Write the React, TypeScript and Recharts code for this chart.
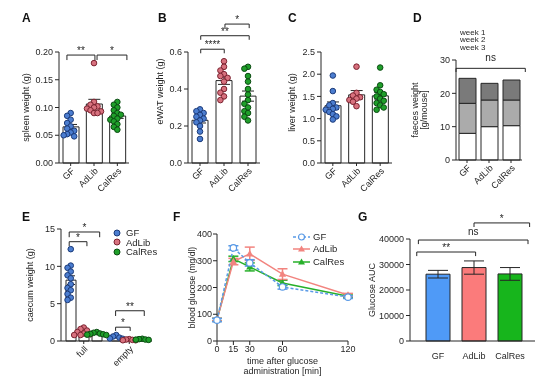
import React from 'react';
import {
  Bar,
  BarChart,
  Cell,
  ComposedChart,
  ErrorBar,
  Label,
  Line,
  LineChart,
  ReferenceLine,
  Scatter,
  XAxis,
  YAxis,
} from 'recharts';

const groups = ['GF', 'AdLib', 'CalRes'];

// A - spleen weight (g), one value per mouse
const spleenGF = [0.09, 0.085, 0.078, 0.072, 0.066, 0.062, 0.058, 0.055, 0.052, 0.05, 0.048];
const spleenAdLib = [0.18, 0.11, 0.105, 0.102, 0.1, 0.098, 0.095, 0.093, 0.09, 0.09];
const spleenCalRes = [0.11, 0.105, 0.1, 0.095, 0.09, 0.087, 0.085, 0.08, 0.078, 0.075, 0.07, 0.065, 0.06];

// B - eWAT weight (g)
const ewatGF = [0.29, 0.28, 0.27, 0.26, 0.25, 0.24, 0.23, 0.22, 0.2, 0.17, 0.13];
const ewatAdLib = [0.55, 0.52, 0.5, 0.48, 0.47, 0.46, 0.44, 0.4, 0.38, 0.36, 0.34];
const ewatCalRes = [0.52, 0.51, 0.47, 0.44, 0.4, 0.37, 0.34, 0.32, 0.3, 0.28, 0.27, 0.25, 0.23];

// C - liver weight (g)
const liverGF = [1.97, 1.62, 1.35, 1.3, 1.25, 1.22, 1.2, 1.15, 1.1, 1.05, 0.98];
const liverAdLib = [2.17, 1.58, 1.52, 1.48, 1.45, 1.42, 1.38, 1.28];
const liverCalRes = [2.15, 1.75, 1.65, 1.6, 1.55, 1.5, 1.45, 1.4, 1.35, 1.3, 1.25, 1.2];

// D - faeces weight per week (g/mouse)
const weekLabels = ['week 1', 'week 2', 'week 3'];
const faecesWeek1 = [8, 10, 10.3];
const faecesWeek2 = [9, 8, 7.7];
const faecesWeek3 = [7.5, 5, 6];

// E - caecum weight (g), full / empty
const caecumSections = ['full', 'empty'];
const caecumGF = [
  [12.3, 10.1, 9.8, 9.3, 8.8, 8.4, 7.6, 7.1, 6.8, 6.3, 5.8, 5.5],
  [0.8, 0.6, 0.45, 0.35, 0.3],
];
const caecumAdLib = [
  [1.8, 1.6, 1.4, 1.2, 1.0, 0.9, 0.8, 0.8],
  [0.25, 0.2, 0.15, 0.1, 0.1],
];
const caecumCalRes = [
  [1.2, 1.1, 1.0, 0.95, 0.9, 0.85, 0.8],
  [0.3, 0.25, 0.2, 0.18, 0.15],
];

// F - blood glucose (mg/dl)
const glucoseTimes = [0, 15, 30, 60, 120];
const glucoseGF = [78, 348, 292, 202, 164];
const glucoseGFSem = [6, 8, 12, 8, 5];
const glucoseAdLib = [80, 297, 326, 250, 172];
const glucoseAdLibSem = [5, 12, 25, 20, 6];
const glucoseCalRes = [80, 307, 277, 217, 167];
const glucoseCalResSem = [5, 10, 15, 10, 5];

// G - glucose AUC
const aucMean = [26200, 28800, 26300];
const aucSem = [1500, 2600, 2500];

const ink = '#262626';
const font = '"Liberation Sans", Arial, sans-serif';
const tickStyle = { fontSize: 9, fill: ink };

const dotFill: Record<string, string> = { GF: '#4b7dd0', AdLib: '#d8717e', CalRes: '#1f9f2a' };
const dotEdge: Record<string, string> = { GF: '#1b3a78', AdLib: '#7a2330', CalRes: '#0b4a12' };
const barFill: Record<string, string> = { GF: '#4f9af7', AdLib: '#fb7b7b', CalRes: '#17b51c' };
const lineColor: Record<string, string> = { GF: '#5a9ae6', AdLib: '#f2847f', CalRes: '#27b02a' };

const mean = (v: number[]) => v.reduce((a, b) => a + b, 0) / v.length;
const sem = (v: number[]) => {
  const m = mean(v);
  return Math.sqrt(v.reduce((a, b) => a + (b - m) ** 2, 0) / (v.length - 1)) / Math.sqrt(v.length);
};

// simple beeswarm: spread dots sideways when they would overlap
function swarm(values: number[], center: number, step: number, minDy: number) {
  const placed: { x: number; y: number }[] = [];
  values.forEach((v) => {
    for (let k = 0; k < 7; k++) {
      const off = k === 0 ? 0 : (k % 2 ? -1 : 1) * Math.ceil(k / 2) * step;
      const hit = placed.some((p) => Math.abs(p.x - (center + off)) < step * 0.9 && Math.abs(p.y - v) < minDy);
      if (!hit) {
        placed.push({ x: center + off, y: v });
        return;
      }
    }
    placed.push({ x: center, y: v });
  });
  return placed;
}

type Spec = { plotLeft: number; plotRight: number; plotTop: number; plotBottom: number; titleX: number; below: number };
const head = 56;

function frame(s: Spec) {
  const axisW = 2 * (s.plotLeft - s.titleX);
  return {
    style: {
      position: 'absolute' as const,
      left: s.plotLeft - axisW,
      top: s.plotTop - head,
      willChange: 'transform',
    },
    width: axisW + s.plotRight - s.plotLeft + 12,
    height: head + s.plotBottom - s.plotTop + s.below,
    margin: { top: head, right: 12, bottom: 0, left: 0 },
    axisW,
  };
}

// significance text centred above the bracket
const starLabel = (text: string, gap: number) => (props: any) => {
  const vb = props.viewBox || {};
  return (
    <text x={vb.x + (vb.width || 0) / 2} y={vb.y - gap - 1} textAnchor="middle" fontSize={10} fill={ink}>
      {text}
    </text>
  );
};

function bracket(id: string, x1: number, x2: number, y: number, drop: number, text: string, gap = 0) {
  return [
    <ReferenceLine
      key={id + 'h'}
      xAxisId="num"
      segment={[{ x: x1, y }, { x: x2, y }]}
      stroke={ink}
      ifOverflow="visible"
      label={starLabel(text, gap)}
    />,
    <ReferenceLine key={id + 'l'} xAxisId="num" segment={[{ x: x1, y }, { x: x1, y: y - drop }]} stroke={ink} ifOverflow="visible" />,
    <ReferenceLine key={id + 'r'} xAxisId="num" segment={[{ x: x2, y }, { x: x2, y: y - drop }]} stroke={ink} ifOverflow="visible" />,
  ];
}

const dotShape = (g: string, r = 2.8) => (p: any) => (
  <circle cx={p.cx} cy={p.cy} r={r} fill={dotFill[g]} stroke={dotEdge[g]} strokeWidth={1} />
);

function DotBarPanel({
  values,
  max,
  ticks,
  digits,
  title,
  titleDy = 0,
  spec,
  children,
}: {
  values: number[][];
  max: number;
  ticks: number[];
  digits: number;
  title: string;
  titleDy?: number;
  spec: Spec;
  children?: React.ReactNode;
}) {
  const f = frame(spec);
  const rows = groups.map((g, i) => ({ name: g, mean: mean(values[i]), err: sem(values[i]) }));
  return (
    <div style={f.style}>
      <ComposedChart width={f.width} height={f.height} data={rows} margin={f.margin}>
        <XAxis
          dataKey="name"
          height={spec.below}
          interval={0}
          angle={-45}
          textAnchor="end"
          tick={tickStyle}
          tickSize={3}
          tickMargin={1}
          stroke={ink}
        />
        <XAxis xAxisId="num" type="number" dataKey="x" domain={[-0.5, groups.length - 0.5]} hide />
        <YAxis
          width={f.axisW}
          domain={[0, max]}
          ticks={ticks}
          tick={tickStyle}
          tickSize={4}
          tickMargin={2}
          stroke={ink}
          tickFormatter={(v: number) => v.toFixed(digits)}
        >
          <Label value={title} angle={-90} position="center" dy={titleDy} fontSize={9} fill={ink} />
        </YAxis>
        <Bar dataKey="mean" barSize={16} fill="#ffffff" stroke={ink} strokeWidth={1} isAnimationActive={false}>
          <ErrorBar dataKey="err" width={6} stroke={ink} strokeWidth={1} direction="y" />
        </Bar>
        {groups.map((g, i) => (
          <Scatter
            key={g}
            xAxisId="num"
            dataKey="y"
            data={swarm(values[i], i, 0.15, max * 0.045)}
            shape={dotShape(g)}
            isAnimationActive={false}
          />
        ))}
        {children}
      </ComposedChart>
    </div>
  );
}

function FaecesPanel() {
  const spec: Spec = { plotLeft: 456, plotRight: 522, plotTop: 60, plotBottom: 160, titleX: 419, below: 40 };
  const f = frame(spec);
  const rows = groups.map((g, i) => ({ name: g, w1: faecesWeek1[i], w2: faecesWeek2[i], w3: faecesWeek3[i] }));
  const shades = ['#ffffff', '#ababab', '#7a7a7a'];
  return (
    <div style={f.style}>
      <BarChart width={f.width} height={f.height} data={rows} margin={f.margin}>
        <XAxis
          dataKey="name"
          height={spec.below}
          interval={0}
          angle={-45}
          textAnchor="end"
          tick={tickStyle}
          tickSize={3}
          tickMargin={1}
          stroke={ink}
        />
        <XAxis xAxisId="num" type="number" domain={[-0.5, 2.5]} hide />
        <YAxis width={f.axisW} domain={[0, 30]} ticks={[0, 10, 20, 30]} tick={tickStyle} tickSize={4} tickMargin={2} stroke={ink}>
          <Label value="faeces weight" angle={-90} position="center" dx={-4} fontSize={9} fill={ink} />
          <Label value="[g/mouse]" angle={-90} position="center" dx={5} fontSize={9} fill={ink} />
        </YAxis>
        {['w1', 'w2', 'w3'].map((k, i) => (
          <Bar key={k} dataKey={k} stackId="s" barSize={17} fill={shades[i]} stroke={ink} strokeWidth={1} isAnimationActive={false} />
        ))}
        {bracket('ns', 0, 2.1, 27.5, 1.1, 'ns', 6)}
      </BarChart>
    </div>
  );
}

function CaecumPanel() {
  const spec: Spec = { plotLeft: 61, plotRight: 152, plotTop: 229, plotBottom: 341, titleX: 30, below: 40 };
  const f = frame(spec);
  const sets = [caecumGF, caecumAdLib, caecumCalRes];
  const rows = caecumSections.map((s, k) => {
    const row: Record<string, number | string> = { name: s };
    groups.forEach((g, j) => {
      row[g] = mean(sets[j][k]);
      row[g + 'Err'] = sem(sets[j][k]);
    });
    return row;
  });
  const barSize = 10;
  const barGap = 3;
  const band = (spec.plotRight - spec.plotLeft) / caecumSections.length;
  const shift = (barSize + barGap) / band;
  return (
    <div style={f.style}>
      <ComposedChart width={f.width} height={f.height} data={rows} margin={f.margin} barGap={barGap}>
        <XAxis
          dataKey="name"
          height={spec.below}
          interval={0}
          angle={-45}
          textAnchor="end"
          tick={tickStyle}
          tickSize={3}
          tickMargin={1}
          stroke={ink}
        />
        <XAxis xAxisId="num" type="number" dataKey="x" domain={[0, caecumSections.length]} hide />
        <YAxis width={f.axisW} domain={[0, 15]} ticks={[0, 5, 10, 15]} tick={tickStyle} tickSize={4} tickMargin={2} stroke={ink}>
          <Label value="caecum weight (g)" angle={-90} position="center" fontSize={9} fill={ink} />
        </YAxis>
        {groups.map((g) => (
          <Bar key={g} dataKey={g} barSize={barSize} fill="#ffffff" stroke={ink} strokeWidth={1} isAnimationActive={false}>
            <ErrorBar dataKey={g + 'Err'} width={4} stroke={ink} strokeWidth={1} direction="y" />
          </Bar>
        ))}
        {groups.map((g, j) => (
          <Scatter
            key={g + 'dots'}
            xAxisId="num"
            dataKey="y"
            data={caecumSections.flatMap((_, k) => swarm(sets[j][k], k + 0.5 + (j - 1) * shift, 0.07, 0.75))}
            shape={dotShape(g)}
            isAnimationActive={false}
          />
        ))}
        {bracket('e1', 0.18, 0.57, 13.3, 0.6, '*')}
        {bracket('e2', 0.18, 0.85, 14.6, 0.7, '*')}
        {bracket('e3', 1.2, 1.52, 1.85, 0.5, '*')}
        {bracket('e4', 1.2, 1.83, 4.05, 0.7, '**')}
      </ComposedChart>
    </div>
  );
}

const triangle = (color: string) => (p: any) => (
  <polygon
    key={`t${p.index}`}
    points={`${p.cx},${p.cy - 3.8} ${p.cx + 3.6},${p.cy + 2.6} ${p.cx - 3.6},${p.cy + 2.6}`}
    fill={color}
  />
);
const openCircle = (p: any) => (
  <circle key={`c${p.index}`} cx={p.cx} cy={p.cy} r={3.2} fill="#ffffff" stroke={lineColor.GF} strokeWidth={1.2} />
);

function GlucosePanel() {
  const spec: Spec = { plotLeft: 217, plotRight: 348, plotTop: 234, plotBottom: 341, titleX: 192, below: 40 };
  const f = frame(spec);
  const rows = glucoseTimes.map((t, i) => ({
    t,
    GF: glucoseGF[i],
    GFErr: glucoseGFSem[i],
    AdLib: glucoseAdLib[i],
    AdLibErr: glucoseAdLibSem[i],
    CalRes: glucoseCalRes[i],
    CalResErr: glucoseCalResSem[i],
  }));
  return (
    <div style={f.style}>
      <LineChart width={f.width} height={f.height} data={rows} margin={f.margin}>
        <XAxis
          dataKey="t"
          type="number"
          domain={[0, 120]}
          ticks={glucoseTimes}
          height={spec.below}
          tick={tickStyle}
          tickSize={4}
          tickMargin={1}
          stroke={ink}
        >
          <Label value="time after glucose" position="insideTop" offset={17} fontSize={9} fill={ink} />
          <Label value="administration [min]" position="insideTop" offset={27} fontSize={9} fill={ink} />
        </XAxis>
        <YAxis width={f.axisW} domain={[0, 400]} ticks={[0, 100, 200, 300, 400]} tick={tickStyle} tickSize={4} tickMargin={1} stroke={ink}>
          <Label value="blood glucose (mg/dl)" angle={-90} position="center" fontSize={8.5} fill={ink} />
        </YAxis>
        <Line dataKey="CalRes" stroke={lineColor.CalRes} strokeWidth={1.5} dot={triangle(lineColor.CalRes)} isAnimationActive={false}>
          <ErrorBar dataKey="CalResErr" width={5} stroke={lineColor.CalRes} direction="y" />
        </Line>
        <Line dataKey="AdLib" stroke={lineColor.AdLib} strokeWidth={1.5} dot={triangle(lineColor.AdLib)} isAnimationActive={false}>
          <ErrorBar dataKey="AdLibErr" width={5} stroke={lineColor.AdLib} direction="y" />
        </Line>
        <Line dataKey="GF" stroke={lineColor.GF} strokeWidth={1.5} strokeDasharray="3 2" dot={openCircle} isAnimationActive={false}>
          <ErrorBar dataKey="GFErr" width={5} stroke={lineColor.GF} direction="y" />
        </Line>
      </LineChart>
    </div>
  );
}

function AucPanel() {
  const spec: Spec = { plotLeft: 410, plotRight: 535, plotTop: 239, plotBottom: 341, titleX: 372, below: 30 };
  const f = frame(spec);
  const rows = groups.map((g, i) => ({ name: g, mean: aucMean[i], err: aucSem[i] }));
  const pad = { left: 10, right: 7 };
  return (
    <div style={f.style}>
      <BarChart width={f.width} height={f.height} data={rows} margin={f.margin}>
        <XAxis dataKey="name" height={spec.below} padding={pad} interval={0} tick={tickStyle} tickLine={false} tickMargin={6} stroke={ink} />
        <XAxis xAxisId="num" type="number" domain={[-0.5, 2.5]} padding={pad} hide />
        <YAxis
          width={f.axisW}
          domain={[0, 40000]}
          ticks={[0, 10000, 20000, 30000, 40000]}
          tick={tickStyle}
          tickSize={4}
          tickMargin={2}
          stroke={ink}
        >
          <Label value="Glucose AUC" angle={-90} position="center" fontSize={9} fill={ink} />
        </YAxis>
        <Bar dataKey="mean" barSize={24} stroke={ink} strokeWidth={1} isAnimationActive={false}>
          {groups.map((g) => (
            <Cell key={g} fill={barFill[g]} />
          ))}
          <ErrorBar dataKey="err" width={10} stroke={ink} strokeWidth={1} direction="y" />
        </Bar>
        {bracket('g1', -0.06, 1.03, 34900, 1600, '**')}
        {bracket('g2', -0.03, 2.0, 39600, 1600, 'ns', 4)}
        {bracket('g3', 1.0, 2.03, 46300, 1600, '*')}
      </BarChart>
    </div>
  );
}

const letterStyle = (left: number, top: number): React.CSSProperties => ({
  position: 'absolute',
  left,
  top,
  fontSize: 12,
  fontWeight: 700,
  lineHeight: 1,
  color: '#111',
});

const legendText: React.CSSProperties = { position: 'absolute', fontSize: 9.5, color: ink, lineHeight: 1, whiteSpace: 'nowrap' };

export default function App() {
  return (
    <div style={{ position: 'absolute', left: 0, top: 0, width: 544, height: 382, background: '#fff', fontFamily: font, overflow: 'hidden' }}>
      <DotBarPanel
        values={[spleenGF, spleenAdLib, spleenCalRes]}
        max={0.2}
        ticks={[0, 0.05, 0.1, 0.15, 0.2]}
        digits={2}
        title="spleen weight (g)"
        spec={{ plotLeft: 59, plotRight: 129, plotTop: 52, plotBottom: 163, titleX: 26, below: 40 }}
      >
        {bracket('a1', -0.16, 1.04, 0.1945, 0.009, '**')}
        {bracket('a2', 1.13, 2.41, 0.1945, 0.009, '*')}
      </DotBarPanel>
      <DotBarPanel
        values={[ewatGF, ewatAdLib, ewatCalRes]}
        max={0.6}
        ticks={[0, 0.2, 0.4, 0.6]}
        digits={1}
        title="eWAT weight (g)"
        titleDy={-16}
        spec={{ plotLeft: 188, plotRight: 260, plotTop: 52, plotBottom: 163, titleX: 160, below: 40 }}
      >
        {bracket('b1', 0.03, 1.01, 0.615, 0.022, '****')}
        {bracket('b2', 0.03, 2.05, 0.688, 0.022, '**')}
        {bracket('b3', 1.04, 2.05, 0.751, 0.022, '*')}
      </DotBarPanel>
      <DotBarPanel
        values={[liverGF, liverAdLib, liverCalRes]}
        max={2.5}
        ticks={[0, 0.5, 1, 1.5, 2, 2.5]}
        digits={1}
        title="liver weight (g)"
        titleDy={-5}
        spec={{ plotLeft: 321, plotRight: 392, plotTop: 52, plotBottom: 163, titleX: 292, below: 40 }}
      />
      <FaecesPanel />
      <CaecumPanel />
      <GlucosePanel />
      <AucPanel />

      <div style={letterStyle(22, 11.5)}>A</div>
      <div style={letterStyle(158, 11.5)}>B</div>
      <div style={letterStyle(288, 11.5)}>C</div>
      <div style={letterStyle(413, 11.5)}>D</div>
      <div style={letterStyle(22, 210.5)}>E</div>
      <div style={letterStyle(173, 210.5)}>F</div>
      <div style={letterStyle(358, 210.5)}>G</div>

      {weekLabels.map((w, i) => (
        <div key={w} style={{ ...legendText, fontSize: 8, lineHeight: '7.5px', left: 460, top: 28.5 + i * 7.5 }}>
          {w}
        </div>
      ))}

      {groups.map((g, i) => (
        <div key={g + 'e'} style={{ ...legendText, left: 113, top: 228 + i * 9.7, display: 'flex', alignItems: 'center', gap: 5 }}>
          <svg width={8} height={8}>
            <circle cx={4} cy={4} r={3} fill={dotFill[g]} stroke={dotEdge[g]} strokeWidth={1} />
          </svg>
          {g}
        </div>
      ))}

      {groups.map((g, i) => (
        <div key={g + 'f'} style={{ ...legendText, left: 293, top: 231.5 + i * 12.5, display: 'flex', alignItems: 'center', gap: 3 }}>
          <svg width={17} height={10}>
            <line x1={0} y1={5} x2={17} y2={5} stroke={lineColor[g]} strokeWidth={1.5} strokeDasharray={g === 'GF' ? '3 2' : undefined} />
            {g === 'GF' ? (
              <circle cx={8.5} cy={5} r={3} fill="#fff" stroke={lineColor.GF} strokeWidth={1.2} />
            ) : (
              <polygon points="8.5,1.4 12,7.6 5,7.6" fill={lineColor[g]} />
            )}
          </svg>
          {g}
        </div>
      ))}
    </div>
  );
}
